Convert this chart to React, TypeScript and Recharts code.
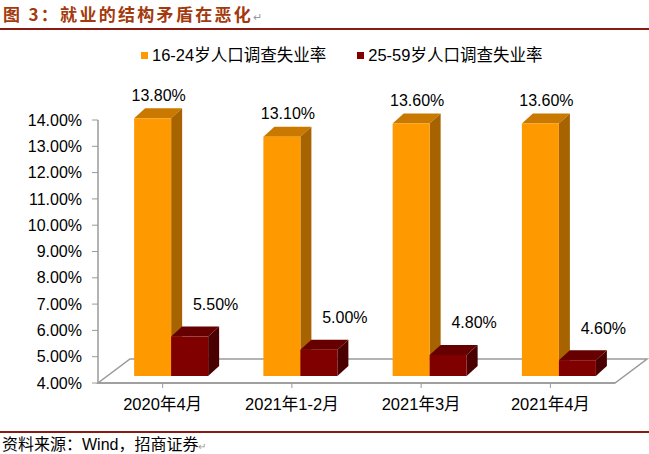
import { BarChart, Bar, XAxis, YAxis, LabelList, Customized } from "recharts";

const categories = ["2020年4月", "2021年1-2月", "2021年3月", "2021年4月"];
const youthRate = [13.8, 13.1, 13.6, 13.6];
const adultRate = [5.5, 5.0, 4.8, 4.6];
const yTicks = [4, 5, 6, 7, 8, 9, 10, 11, 12, 13, 14];

const series = [
  { key: "youth", name: "16-24岁人口调查失业率", front: "#FF9900", top: "#C97800", side: "#A66300", lx: 15, ly: -30 },
  { key: "adult", name: "25-59岁人口调查失业率", front: "#800000", top: "#660000", side: "#4A0000", lx: 35, ly: -39 },
];

const data = categories.map((cat, i) => ({ cat, youth: youthRate[i], adult: adultRate[i] }));

const W = 649;
const H = 454;
const PLOT = { left: 98, right: 615, top: 120, bottom: 383 };
// depth of the floor and of each bar box
const FLOOR_D = { dx: 32, dy: 24 };
const SHIFT = { dx: 9, dy: 7 };
const BOX = { dx: 11, dy: 10 };
const FONT = "'Liberation Sans', Arial, 'Noto Sans CJK SC', sans-serif";

function makeBox(s: (typeof series)[number]) {
  return (props: any) => {
    const { x, y, width, height } = props;
    if (width == null || height == null) return null;
    const fx = x + SHIFT.dx;
    const fy = y - SHIFT.dy;
    const w = width;
    const h = height;
    const { dx, dy } = BOX;
    return (
      <g>
        <polygon
          points={`${fx},${fy} ${fx + dx},${fy - dy} ${fx + w + dx},${fy - dy} ${fx + w},${fy}`}
          fill={s.top}
        />
        <polygon
          points={`${fx + w},${fy} ${fx + w + dx},${fy - dy} ${fx + w + dx},${fy + h - dy} ${fx + w},${fy + h}`}
          fill={s.side}
        />
        <rect x={fx} y={fy} width={w} height={h} fill={s.front} />
      </g>
    );
  };
}

function makeLabel(s: (typeof series)[number]) {
  return (props: any) => {
    const { x, y, width, value } = props;
    return (
      <text
        x={x + width / 2 + s.lx}
        y={y + s.ly}
        textAnchor="middle"
        dominantBaseline="central"
        fontSize={16}
        fontFamily={FONT}
        fill="#000"
      >
        {Number(value).toFixed(2)}%
      </text>
    );
  };
}

function Floor() {
  const { left, right, bottom } = PLOT;
  const { dx, dy } = FLOOR_D;
  return (
    <g>
      <polygon
        points={`${left},${bottom} ${right},${bottom} ${right + dx},${bottom - dy} ${left + dx},${bottom - dy}`}
        fill="#fff"
        stroke="#9a9a9a"
        strokeWidth={1.5}
      />
    </g>
  );
}

export default function App() {
  return (
    <div
      style={{
        position: "absolute",
        left: 0,
        top: 0,
        width: W,
        height: H,
        background: "#fff",
        fontFamily: FONT,
        overflow: "hidden",
      }}
    >
      <div
        style={{
          position: "absolute",
          left: 3,
          top: 4,
          fontSize: 17,
          lineHeight: "20px",
          fontWeight: 700,
          letterSpacing: 2.3,
          color: "#A33A0E",
          fontFamily: "'Noto Sans CJK SC', sans-serif",
          whiteSpace: "nowrap",
        }}
      >
        图 3：就业的结构矛盾在恶化
        <span style={{ color: "#999", fontWeight: 400, fontSize: 11, letterSpacing: 0 }}>↵</span>
      </div>
      <div style={{ position: "absolute", left: 0, top: 28, width: W, height: 2, background: "#8B1A10" }} />

      <div
        style={{
          position: "absolute",
          left: 141,
          top: 44,
          display: "flex",
          gap: 31,
          fontSize: 16.5,
          lineHeight: "22px",
        }}
      >
        {series.map((s) => (
          <div key={s.key} style={{ display: "flex", alignItems: "center", whiteSpace: "nowrap" }}>
            <span style={{ display: "inline-block", width: 7, height: 7, background: s.front, marginRight: 4 }} />
            {s.name}
          </div>
        ))}
      </div>

      <div style={{ position: "absolute", left: 0, top: 0 }}>
        <BarChart
          width={W}
          height={H}
          data={data}
          margin={{ top: PLOT.top, right: W - PLOT.right, left: 0, bottom: 31 }}
          barCategoryGap="21%"
          barGap={0}
        >
          <Customized component={Floor} />
          <XAxis
            dataKey="cat"
            height={H - PLOT.bottom - 31}
            axisLine={{ stroke: "#9a9a9a", strokeWidth: 1.5 }}
            tickLine={{ stroke: "#9a9a9a" }}
            tickSize={5}
            tickMargin={10}
            interval={0}
            tick={{ fontSize: 16.5, fill: "#000", fontFamily: FONT }}
          />
          <YAxis
            width={PLOT.left}
            domain={[4, 14]}
            ticks={yTicks}
            axisLine={{ stroke: "#9a9a9a", strokeWidth: 1.5 }}
            tickLine={{ stroke: "#9a9a9a" }}
            tickSize={6}
            tickMargin={10}
            tickFormatter={(v: number) => `${v.toFixed(2)}%`}
            tick={{ fontSize: 16, fill: "#000", fontFamily: FONT }}
          />
          {series.map((s) => (
            <Bar key={s.key} dataKey={s.key} name={s.name} shape={makeBox(s)} isAnimationActive={false}>
              <LabelList dataKey={s.key} content={makeLabel(s)} />
            </Bar>
          ))}
        </BarChart>
      </div>

      <div style={{ position: "absolute", left: 0, top: 431, width: W, height: 1.5, background: "#8B1A10" }} />
      <div
        style={{
          position: "absolute",
          left: 2,
          top: 434,
          fontSize: 16,
          lineHeight: "19px",
          color: "#000",
          whiteSpace: "nowrap",
          fontFamily: "'Noto Sans CJK SC', sans-serif",
        }}
      >
        资料来源：<span style={{ fontFamily: FONT }}>Wind</span>，招商证券
        <span style={{ color: "#999", fontSize: 10 }}>↵</span>
      </div>
    </div>
  );
}
